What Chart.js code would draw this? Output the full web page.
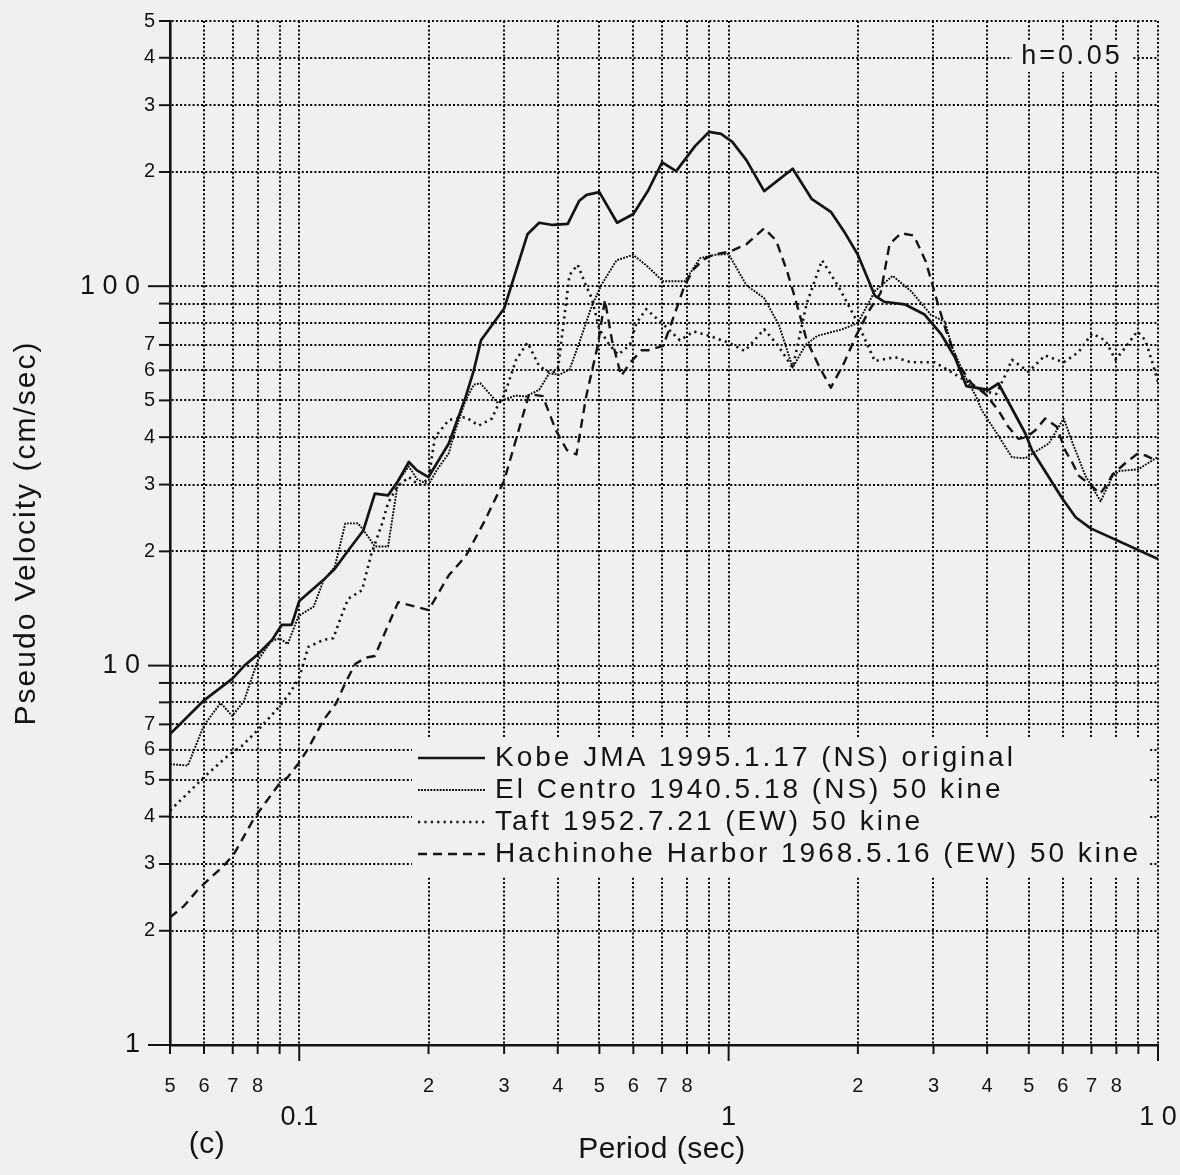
<!DOCTYPE html>
<html lang="en">
<head>
<meta charset="UTF-8">
<title>Pseudo Velocity Response Spectra (h=0.05)</title>
<script src="https://cdn.jsdelivr.net/npm/chart.js"></script>
<style>
  body {
    margin: 0;
    padding: 0;
    background-color: #f0f0ee;
  }
  .chart-box {
    position: relative;
    width: 1180px;
    height: 1175px;
  }
</style>
</head>
<body>
<div class="chart-box"><canvas id="spectraChart"></canvas></div>

<script>
// Kobe JMA 1995.1.17 (NS) original
const kobePeriod = [0.05,0.06,0.07,0.0745,0.08,0.0865,0.091,0.096,0.1,0.115,0.121,0.13,0.141,0.15,0.161,0.17,0.18,0.188,0.2,0.223,0.244,0.255,0.265,0.3,0.34,0.362,0.389,0.422,0.449,0.467,0.5,0.55,0.6,0.65,0.7,0.755,0.835,0.9,0.96,1.02,1.1,1.21,1.41,1.56,1.73,1.86,2.0,2.19,2.3,2.57,2.86,3.13,3.37,3.58,4.03,4.25,4.91,5.09,5.98,6.43,6.97,10];
const kobePsv = [6.6,8.1,9.25,10.0,10.7,11.7,12.8,12.8,14.8,17.0,18.0,20.1,22.7,28.4,28.1,30.7,34.4,32.7,31.4,38.5,51,60,72,87.3,137,147,145,146,168,174,177,147,155,179,212,201,234,255,252,240,215,178,204,170,157,139,121,94.4,91,89.6,84.2,74.6,64.7,54.5,53.3,55.4,40.9,36.9,27.6,24.6,23.0,19.1];

// El Centro 1940.5.18 (NS) 50 kine
const elcPeriod = [0.05,0.055,0.06,0.0656,0.0698,0.0743,0.08,0.086,0.09,0.094,0.0996,0.108,0.114,0.121,0.128,0.137,0.141,0.15,0.161,0.17,0.18,0.188,0.2,0.21,0.223,0.231,0.244,0.255,0.264,0.29,0.297,0.319,0.337,0.362,0.382,0.403,0.426,0.449,0.478,0.505,0.548,0.599,0.643,0.704,0.79,0.858,0.93,1.0,1.1,1.21,1.31,1.41,1.51,1.61,1.84,2.0,2.19,2.41,2.66,2.96,3.19,3.31,3.55,3.76,3.89,4.17,4.57,4.91,5.18,5.57,6.03,6.33,6.78,7.35,7.84,8.14,8.99,9.49,10];
const elcPsv = [5.5,5.45,6.96,7.97,7.37,8.05,10.3,11.6,11.8,11.4,13.5,14.3,16.8,18.2,23.7,23.7,22.8,20.6,20.6,30.7,33.5,31,30,33,36.3,41.7,50,55,55.5,49.2,50,51.5,51.2,53.3,58.9,58.4,60.3,71,87.5,100.6,117,121,113.5,103,103,118.5,121,121.5,100.6,93,79,61,70,74,77,80,97,106.5,97,84,80.6,69.4,57.9,51.5,47,41.7,35.4,35.2,36.6,38.5,44.8,38.5,31.6,27.1,31.6,32.6,32.9,34.2,35.5];

// Taft 1952.7.21 (EW) 50 kine
const taftPeriod = [0.05,0.056,0.06,0.068,0.0734,0.0813,0.089,0.095,0.1,0.105,0.114,0.12,0.125,0.13,0.14,0.147,0.156,0.161,0.169,0.18,0.19,0.2,0.207,0.223,0.244,0.262,0.281,0.29,0.3,0.32,0.34,0.362,0.385,0.4,0.426,0.445,0.466,0.48,0.5,0.528,0.553,0.589,0.61,0.643,0.69,0.725,0.77,0.83,0.9,1.0,1.09,1.21,1.3,1.41,1.52,1.65,1.8,2.0,2.07,2.19,2.44,2.66,3.02,3.29,3.6,3.9,4.2,4.4,4.57,4.99,5.46,6.03,6.53,7.02,7.54,7.96,8.4,8.94,9.35,9.7,10];
const taftPsv = [4.15,4.7,5.08,5.77,6.13,6.88,7.7,8.45,9.3,11.2,11.7,11.8,13.4,15.0,15.8,19.6,23.7,26.8,29.6,31.4,29.9,31,40,44.4,45.2,42.9,44.8,48.5,51.5,64,71,61.6,59,60,107,114,100,93,77,70,66,70,80,87,81,77,72,76,74,71,67.5,77,70,61,90,117,100,80,73,63.5,65,63,63,59.5,56,53,52,58,64,59.5,65.7,63,67,75,72,64,69,76,72,63,56];

// Hachinohe Harbor 1968.5.16 (EW) 50 kine
const hachPeriod = [0.05,0.0538,0.0585,0.0667,0.0704,0.0783,0.0834,0.09,0.094,0.1,0.105,0.114,0.122,0.128,0.135,0.143,0.15,0.17,0.2,0.223,0.244,0.27,0.3,0.343,0.369,0.396,0.42,0.442,0.466,0.496,0.515,0.535,0.562,0.589,0.627,0.65,0.704,0.73,0.757,0.79,0.83,0.874,0.92,1.01,1.1,1.21,1.29,1.37,1.44,1.52,1.63,1.73,1.86,1.98,2.12,2.26,2.37,2.52,2.7,2.88,3.07,3.2,3.42,3.68,3.96,4.25,4.48,4.73,4.94,5.18,5.46,5.81,6.08,6.33,6.55,6.92,7.33,7.54,7.84,8.4,8.94,9.35,10];
const hachPsv = [2.17,2.32,2.59,2.97,3.18,3.94,4.35,4.89,5.08,5.55,6.06,7.2,7.97,9.0,10.1,10.5,10.6,14.7,14.0,17.3,19.4,24,30.7,52,51.3,41.7,37,36,51.3,70,92,72,58,62.8,67.8,67.8,69.6,78,87.5,100.6,111,117.6,121,123.5,129,142,132,109,90,72,61,54,63,74,86,96,129,138,136,116,90,77,62.6,55.4,52,47,42.6,39.6,40,41.7,44.8,42.6,36.9,34.1,31.6,30.1,28.4,29.6,31.9,34.2,36.1,35.8,34.5];

const seriesNames = [
  'Kobe JMA 1995.1.17 (NS) original',
  'El Centro 1940.5.18 (NS) 50 kine',
  'Taft 1952.7.21 (EW) 50 kine',
  'Hachinohe Harbor 1968.5.16 (EW) 50 kine'
];

// ticks
const xTickValues = [0.05,0.06,0.07,0.08,0.09,0.1,0.2,0.3,0.4,0.5,0.6,0.7,0.8,0.9,1,2,3,4,5,6,7,8,9,10];
const xMajorValues = [0.1, 1, 10];
const xMajorText = ['0.1', '1', '1 0'];
const xMinorDigits = ['2','3','4','5','6','7','8'];
const yTickValues = [1,2,3,4,5,6,7,8,9,10,20,30,40,50,60,70,80,90,100,200,300,400,500];
const yMajorValues = [1, 10, 100];
const yMajorText = ['1', '1 0', '1 0 0'];
const yMinorDigits = ['2','3','4','5','6','7'];

const FONT = '"Liberation Sans", Arial, Helvetica, sans-serif';
const INK = '#141414';
const PAPER = '#f0f0ee';

function toPoints(xs, ys) {
  return xs.map((v, i) => ({ x: v, y: ys[i] }));
}
function majorIndex(list, v) {
  return list.findIndex(m => Math.abs(m - v) < 1e-9);
}
function leadDigit(v) {
  return String(Math.round(v / Math.pow(10, Math.floor(Math.log10(v) + 1e-9))));
}
function tickFont(ctx, majors) {
  const isMajor = ctx.tick && majorIndex(majors, ctx.tick.value) >= 0;
  return isMajor ? { family: FONT, size: 27, lineHeight: 1.05 }
                 : { family: FONT, size: 20, lineHeight: 1.15 };
}

// tick marks, legend, titles
const paperDecorations = {
  id: 'paperDecorations',
  afterDraw(chart) {
    const { ctx, chartArea, scales: { x, y } } = chart;
    ctx.save();
    ctx.strokeStyle = INK;
    ctx.lineWidth = 2;
    ctx.setLineDash([]);
    x.ticks.forEach(t => {
      const px = x.getPixelForValue(t.value);
      const len = majorIndex(xMajorValues, t.value) >= 0 ? 16 : 9;
      ctx.beginPath();
      ctx.moveTo(px, chartArea.bottom);
      ctx.lineTo(px, chartArea.bottom + len);
      ctx.stroke();
    });
    y.ticks.forEach(t => {
      const py = y.getPixelForValue(t.value);
      const len = majorIndex(yMajorValues, t.value) >= 0 ? 22 : 11;
      ctx.beginPath();
      ctx.moveTo(chartArea.left - len, py);
      ctx.lineTo(chartArea.left, py);
      ctx.stroke();
    });

    // legend inside the plot
    ctx.fillStyle = PAPER;
    ctx.fillRect(412, 737, 738, 139);
    const rows = [758, 790, 822, 854];
    chart.data.datasets.forEach((ds, i) => {
      ctx.save();
      ctx.strokeStyle = ds.borderColor;
      ctx.lineWidth = ds.borderWidth;
      ctx.setLineDash(ds.borderDash || []);
      ctx.beginPath();
      ctx.moveTo(418, rows[i]);
      ctx.lineTo(485, rows[i]);
      ctx.stroke();
      ctx.restore();
      ctx.fillStyle = INK;
      ctx.font = '28px ' + FONT;
      ctx.letterSpacing = '3px';
      ctx.textAlign = 'left';
      ctx.textBaseline = 'middle';
      ctx.fillText(ds.label, 495, rows[i]);
    });

    // damping note
    ctx.fillStyle = PAPER;
    ctx.fillRect(1012, 40, 120, 32);
    ctx.fillStyle = INK;
    ctx.font = '27px ' + FONT;
    ctx.letterSpacing = '3px';
    ctx.textAlign = 'center';
    ctx.fillText('h=0.05', 1072, 57);

    // axis titles
    ctx.font = '30px ' + FONT;
    ctx.letterSpacing = '0.5px';
    ctx.fillText('Period (sec)', 662, 1150);
    ctx.fillText('(c)', 207, 1145);
    ctx.letterSpacing = '2px';
    ctx.translate(27, 533);
    ctx.rotate(-Math.PI / 2);
    ctx.fillText('Pseudo Velocity (cm/sec)', 0, 0);
    ctx.restore();
  }
};

new Chart(document.getElementById('spectraChart'), {
  type: 'line',
  data: {
    datasets: [
      {
        label: seriesNames[0],
        data: toPoints(kobePeriod, kobePsv),
        borderColor: INK,
        borderWidth: 2.7,
        borderDash: []
      },
      {
        label: seriesNames[1],
        data: toPoints(elcPeriod, elcPsv),
        borderColor: '#000',
        borderWidth: 1.9,
        borderDash: [1.8, 1.3]
      },
      {
        label: seriesNames[2],
        data: toPoints(taftPeriod, taftPsv),
        borderColor: INK,
        borderWidth: 2.6,
        borderDash: [2.2, 4.2]
      },
      {
        label: seriesNames[3],
        data: toPoints(hachPeriod, hachPsv),
        borderColor: INK,
        borderWidth: 2.4,
        borderDash: [9, 6]
      }
    ]
  },
  options: {
    responsive: true,
    maintainAspectRatio: false,
    animation: false,
    devicePixelRatio: 1,
    elements: {
      point: { radius: 0 },
      line: { tension: 0, borderJoinStyle: 'round' }
    },
    layout: { padding: { top: 21, right: 22, left: 0, bottom: 0 } },
    plugins: {
      legend: { display: false },
      tooltip: { enabled: false }
    },
    scales: {
      x: {
        type: 'logarithmic',
        min: 0.05,
        max: 10,
        afterBuildTicks: s => { s.ticks = xTickValues.map(v => ({ value: v })); },
        afterFit: s => { s.height = 130; s.paddingLeft = 0; s.paddingRight = 0; },
        grid: { color: '#000', lineWidth: 2, drawTicks: false },
        border: { display: true, color: INK, width: 2.6, dash: [2, 2.2] },
        ticks: {
          autoSkip: false,
          maxRotation: 0,
          minRotation: 0,
          padding: 30,
          color: INK,
          font: ctx => tickFont(ctx, xMajorValues),
          callback: value => {
            const i = majorIndex(xMajorValues, value);
            if (i >= 0) return ['', xMajorText[i]];
            const d = leadDigit(value);
            return xMinorDigits.includes(d) ? d : '';
          }
        }
      },
      y: {
        type: 'logarithmic',
        min: 1,
        max: 500,
        afterBuildTicks: s => { s.ticks = yTickValues.map(v => ({ value: v })); },
        afterFit: s => { s.width = 170; s.paddingTop = 0; s.paddingBottom = 0; },
        grid: { color: '#000', lineWidth: 2, drawTicks: false },
        border: { display: true, color: INK, width: 2.6, dash: [2, 2.2] },
        ticks: {
          autoSkip: false,
          padding: 15,
          color: INK,
          font: ctx => tickFont(ctx, yMajorValues),
          callback: value => {
            const i = majorIndex(yMajorValues, value);
            if (i >= 0) return yMajorText[i] + '\u00a0\u00a0';
            const d = leadDigit(value);
            return yMinorDigits.includes(d) ? d : '';
          }
        }
      }
    }
  },
  plugins: [paperDecorations]
});
</script>
</body>
</html>
